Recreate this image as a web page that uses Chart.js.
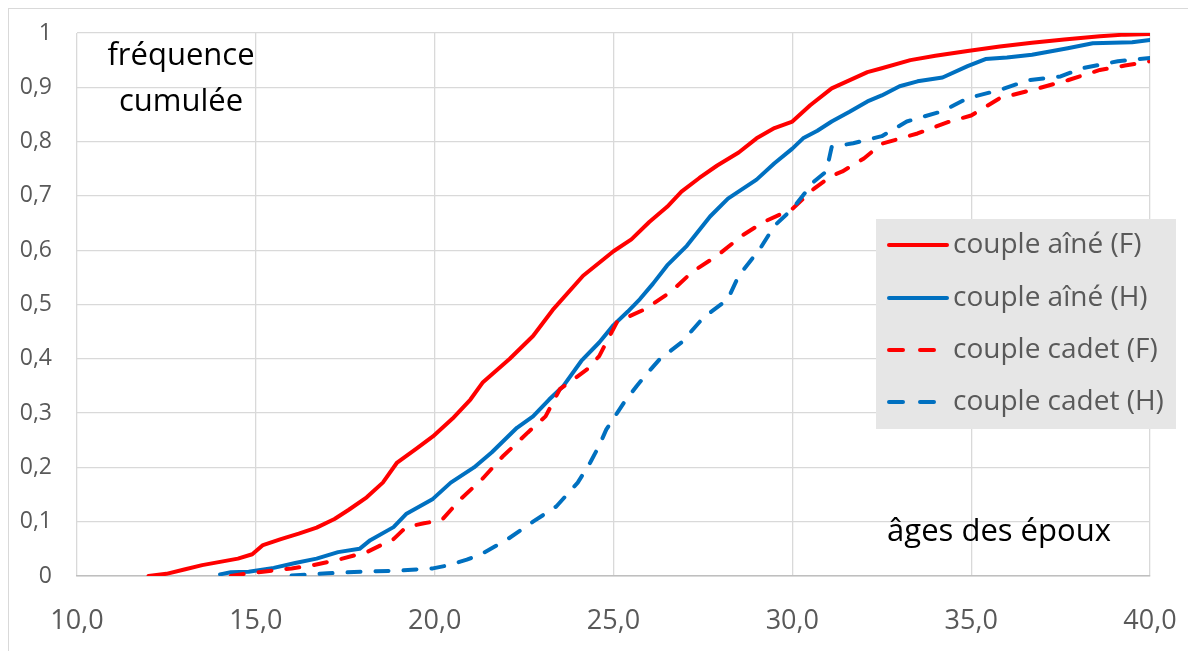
<!DOCTYPE html>
<html>
<head>
<meta charset="utf-8">
<script src="https://cdn.jsdelivr.net/npm/chart.js@4.4.1/dist/chart.umd.min.js"></script>
<style>
  html, body { margin: 0; padding: 0; background: #fff; }
  #wrap { position: relative; width: 1188px; height: 651px; overflow: hidden; }
  #frame { position: absolute; left: 8px; top: 8px; width: 1300px; height: 800px;
           border-left: 1px solid #d9d9d9; border-top: 1px solid #d9d9d9; }
  canvas { position: absolute; left: 0; top: 0; }
</style>
</head>
<body>
<div id="wrap">
  <div id="frame"></div>
  <canvas id="ageChart" width="1188" height="651"></canvas>
</div>
<script>
// cumulative frequency of age at marriage
const seriesNames = ['couple aîné (F)', 'couple aîné (H)', 'couple cadet (F)', 'couple cadet (H)'];

const ageAineF = [12.0, 12.5, 13.0, 13.5, 14.0, 14.5, 14.9, 15.2, 15.7, 16.2, 16.7, 17.2, 17.6, 18.1, 18.55, 18.95, 19.5, 19.95, 20.5, 21.0, 21.35, 22.1, 22.75, 23.3, 24.15, 25.0, 25.5, 26.0, 26.5, 26.9, 27.4, 27.9, 28.5, 29.0, 29.5, 30.0, 30.5, 31.1, 31.5, 32.1, 32.5, 33.3, 34.0, 34.9, 35.8, 36.7, 37.6, 38.6, 39.3, 40.0];
const freqAineF = [0, 0.004, 0.012, 0.02, 0.026, 0.032, 0.04, 0.057, 0.068, 0.078, 0.089, 0.105, 0.122, 0.145, 0.172, 0.209, 0.235, 0.257, 0.29, 0.325, 0.357, 0.40, 0.442, 0.49, 0.553, 0.598, 0.62, 0.652, 0.68, 0.708, 0.733, 0.756, 0.78, 0.806, 0.825, 0.837, 0.867, 0.898, 0.91, 0.928, 0.935, 0.95, 0.958, 0.967, 0.975, 0.982, 0.988, 0.994, 0.997, 0.998];

const ageAineH = [14.0, 14.3, 14.8, 15.5, 16.1, 16.7, 17.3, 17.9, 18.2, 18.85, 19.2, 19.95, 20.45, 21.1, 21.6, 22.3, 22.75, 23.2, 23.6, 24.1, 24.6, 25.0, 25.4, 25.74, 26.1, 26.5, 27.05, 27.7, 28.2, 29.0, 29.5, 30.0, 30.3, 30.7, 31.1, 31.6, 32.1, 32.5, 33.0, 33.5, 34.2, 34.9, 35.4, 36.0, 36.7, 37.7, 38.4, 39.5, 40.0];
const freqAineH = [0.003, 0.007, 0.008, 0.015, 0.024, 0.032, 0.044, 0.05, 0.066, 0.09, 0.114, 0.142, 0.172, 0.2, 0.228, 0.273, 0.294, 0.325, 0.35, 0.396, 0.43, 0.462, 0.487, 0.51, 0.538, 0.572, 0.608, 0.662, 0.695, 0.73, 0.76, 0.787, 0.806, 0.82, 0.837, 0.855, 0.874, 0.885, 0.902, 0.911, 0.918, 0.939, 0.952, 0.955, 0.96, 0.972, 0.981, 0.983, 0.987];

const ageCadetF = [14.3, 14.8, 15.2, 16.0, 16.6, 17.3, 18.1, 18.85, 19.2, 19.7, 20.2, 20.7, 21.35, 21.9, 22.6, 23.1, 23.5, 24.25, 24.6, 25.1, 25.9, 26.6, 27.2, 27.9, 28.6, 29.2, 30.0, 30.6, 31.1, 31.4, 32.0, 32.5, 33.5, 34.4, 35.0, 35.8, 36.7, 37.7, 38.6, 39.3, 40.0];
const freqCadetF = [0, 0.005, 0.008, 0.014, 0.02, 0.03, 0.044, 0.068, 0.09, 0.097, 0.103, 0.14, 0.18, 0.22, 0.264, 0.294, 0.344, 0.38, 0.405, 0.468, 0.492, 0.523, 0.56, 0.59, 0.627, 0.652, 0.676, 0.713, 0.737, 0.745, 0.769, 0.796, 0.815, 0.837, 0.848, 0.88, 0.895, 0.913, 0.932, 0.94, 0.948];

const ageCadetH = [16.0, 17.0, 18.0, 19.0, 19.95, 20.4, 20.9, 21.35, 22.0, 22.75, 23.4, 24.0, 24.35, 24.6, 24.8, 25.1, 25.3, 25.65, 25.9, 26.3, 26.9, 27.5, 28.2, 28.5, 29.1, 29.5, 30.0, 30.6, 30.95, 31.1, 31.7, 32.5, 33.2, 34.2, 34.9, 35.8, 36.6, 37.5, 38.1, 39.1, 40.0];
const freqCadetH = [0.001, 0.005, 0.008, 0.01, 0.014, 0.02, 0.03, 0.042, 0.066, 0.1, 0.128, 0.172, 0.209, 0.24, 0.27, 0.30, 0.32, 0.35, 0.37, 0.40, 0.43, 0.475, 0.51, 0.553, 0.603, 0.645, 0.676, 0.726, 0.745, 0.79, 0.797, 0.81, 0.837, 0.856, 0.88, 0.895, 0.913, 0.92, 0.935, 0.948, 0.954];

const xTicks = [10, 15, 20, 25, 30, 35, 40];
const yTicks = [0, 0.1, 0.2, 0.3, 0.4, 0.5, 0.6, 0.7, 0.8, 0.9, 1];

const RED = '#ff0000';
const BLUE = '#0070c0';
const FONT = "'Open Sans', sans-serif";

const toPoints = (xs, ys) => xs.map((x, i) => ({ x: x, y: ys[i] }));
const commaNum = (v, digits) => v.toFixed(digits).replace('.', ',');

function makeSeries(i, xs, ys, color, dashed) {
  return {
    label: seriesNames[i],
    data: toPoints(xs, ys),
    borderColor: color,
    backgroundColor: color,
    borderWidth: 4,
    borderDash: dashed ? [13, 15] : [],
    borderCapStyle: 'round',
    borderJoinStyle: 'round',
    pointRadius: 0,
    tension: 0,
    fill: false,
    order: 4 - i,
  };
}

// text boxes and legend drawn inside the plot like the original
const overlay = {
  id: 'overlay',
  afterDraw(chart) {
    const c = chart.ctx;
    c.save();
    c.fillStyle = '#000';
    c.textAlign = 'center';
    c.textBaseline = 'middle';
    c.font = `31px ${FONT}`;
    c.fillText('fréquence', 181, 56);
    c.fillText('cumulée', 181, 102);
    c.fillText('âges des époux', 999, 532);

    // legend
    c.fillStyle = '#e6e6e6';
    c.fillRect(876, 219, 300, 210);
    const rows = [245, 298, 350, 402];
    chart.data.datasets.forEach((ds, i) => {
      const y = rows[i];
      c.strokeStyle = ds.borderColor;
      c.lineWidth = 4;
      c.lineCap = 'round';
      c.setLineDash(ds.borderDash.length ? [14, 17] : []);
      c.beginPath();
      c.moveTo(889, y);
      c.lineTo(947, y);
      c.stroke();
      c.setLineDash([]);
      c.fillStyle = '#595959';
      c.textAlign = 'left';
      c.font = `28px ${FONT}`;
      c.fillText(ds.label, 953, y);
    });
    c.restore();
  }
};

new Chart(document.getElementById('ageChart').getContext('2d'), {
  type: 'line',
  data: {
    datasets: [
      makeSeries(0, ageAineF, freqAineF, RED, false),
      makeSeries(1, ageAineH, freqAineH, BLUE, false),
      makeSeries(2, ageCadetF, freqCadetF, RED, true),
      makeSeries(3, ageCadetH, freqCadetH, BLUE, true),
    ],
  },
  options: {
    responsive: false,
    animation: false,
    devicePixelRatio: 1,
    layout: { padding: { left: 0, right: 38, top: 33, bottom: 0 } },
    plugins: { legend: { display: false }, tooltip: { enabled: false } },
    scales: {
      x: {
        type: 'linear',
        min: 10,
        max: 40,
        afterFit: s => { s.height = 75; s.paddingLeft = 0; s.paddingRight = 0; },
        afterBuildTicks: s => { s.ticks = xTicks.map(v => ({ value: v })); },
        ticks: {
          padding: 29,
          color: '#595959',
          font: { family: FONT, size: 27 },
          callback: v => commaNum(v, 1),
        },
        grid: { color: '#d9d9d9', lineWidth: 1.3, drawTicks: false },
        border: { color: '#bfbfbf', width: 1.5 },
      },
      y: {
        min: 0,
        max: 1,
        afterFit: s => { s.width = 77; s.paddingTop = 0; s.paddingBottom = 0; },
        afterBuildTicks: s => { s.ticks = yTicks.map(v => ({ value: v })); },
        ticks: {
          padding: 25,
          color: '#595959',
          font: { family: FONT, size: 23 },
          callback: v => (v === 0 || v === 1) ? String(v) : commaNum(v, 1),
        },
        grid: { color: '#d9d9d9', lineWidth: 1.3, drawTicks: false },
        border: { display: false },
      },
    },
  },
  plugins: [overlay],
});
</script>
</body>
</html>
